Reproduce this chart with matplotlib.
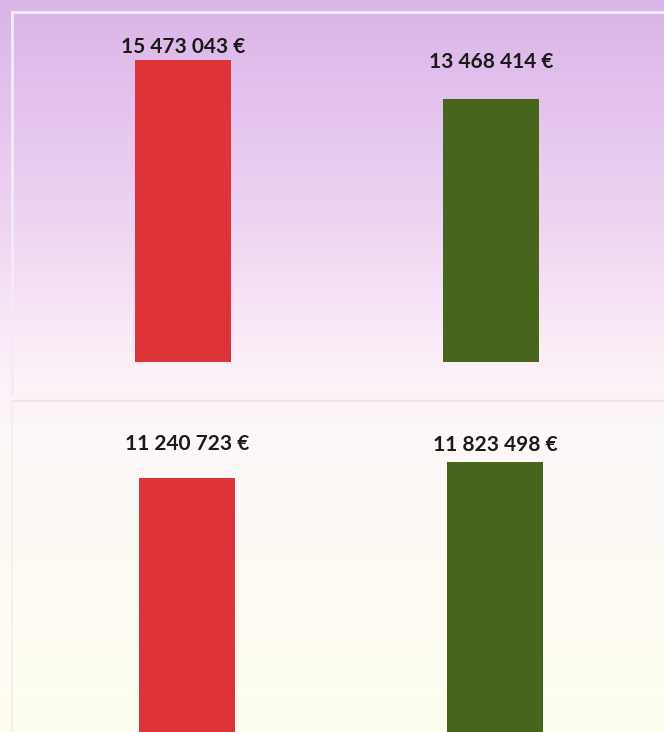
import numpy as np
import matplotlib.pyplot as plt
from matplotlib.colors import LinearSegmentedColormap

# montants affichés (euros)
top_values = [15473043, 13468414]
bottom_values = [11240723, 11823498]
bar_colors = ['#de3439', '#47651d']

def euro(v):
    return f"{v:,}".replace(",", " ") + " €"

W, H = 664, 732
fig = plt.figure(figsize=(W / 100, H / 100), dpi=100)

# fond dégradé (mauve en haut, blanc cassé / jaune pâle en bas)
bg = fig.add_axes([0, 0, 1, 1])
bg.set_axis_off()
stops = [(0.0, '#d9b5e8'), (0.10, '#e1bfec'), (0.30, '#efd4f2'),
         (0.50, '#fcf0f8'), (0.60, '#fdf8f8'), (1.0, '#fffff0')]
cmap = LinearSegmentedColormap.from_list('fond', stops)
grad = np.linspace(0, 1, 400).reshape(-1, 1)
bg.imshow(grad, aspect='auto', cmap=cmap, extent=[0, 1, 0, 1], origin='upper')
bg.set_xlim(0, 1)
bg.set_ylim(0, 1)

# cadres des panneaux
bg.plot([12 / W, 662 / W], [1 - 12 / H, 1 - 12 / H], color='#f4eaf8', lw=2)
bg.plot([12 / W, 12 / W], [1 - 12 / H, 1 - 395 / H], color='#f4eaf8', lw=2)
bg.plot([12 / W, 662 / W], [1 - 401 / H, 1 - 401 / H], color='#ebe6e8', lw=1.5)
bg.plot([12 / W, 12 / W], [1 - 401 / H, 0], color='#f3f0ee', lw=1.5)

def panel(rect, values, ylim, xlim, offsets):
    ax = fig.add_axes(rect)
    ax.patch.set_alpha(0)
    x = np.arange(len(values))
    ax.bar(x, values, width=0.312, color=bar_colors)
    for xi, v, off in zip(x, values, offsets):
        ax.annotate(euro(v), (xi, v), xytext=(0, off), textcoords='offset pixels',
                    ha='center', va='baseline', fontsize=15, fontweight='bold',
                    family='Lato', color='#1a1a1a')
    ax.set_ylim(*ylim)
    ax.set_xlim(*xlim)
    ax.set_axis_off()
    return ax

# panneau du haut : base à y=362 px
scale_top = 302 / 15.473e6
panel([12 / W, (H - 362) / H, (W - 12) / W, 350 / H], top_values,
      (0, 350 / scale_top), (-(183 - 12) / 308, (W - 183) / 308), [7, 31])

# panneau du bas : base hors image
scale_bot = 16 / (11823498 - 11240723)
base_y = 478 + 11240723 * scale_bot
panel([12 / W, 0, (W - 12) / W, (H - 402) / H], bottom_values,
      ((base_y - H) / scale_bot, (base_y - 402) / scale_bot),
      (-(187 - 12) / 308, (W - 187) / 308), [28, 11])

fig.savefig('out.png', dpi=100)
